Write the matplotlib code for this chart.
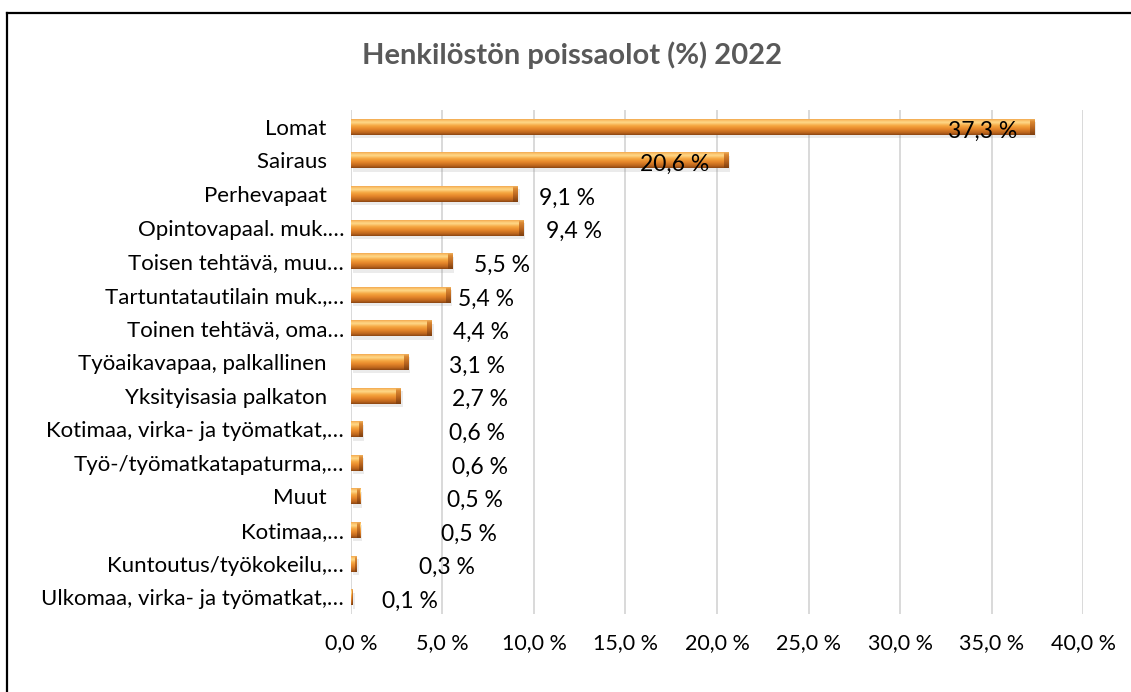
import numpy as np
import matplotlib
matplotlib.use('Agg')
import matplotlib.pyplot as plt
from matplotlib.colors import LinearSegmentedColormap
from matplotlib.lines import Line2D

categories = [
    'Lomat', 'Sairaus', 'Perhevapaat', 'Opintovapaal. muk.\u2026',
    'Toisen tehtävä, muu\u2026', 'Tartuntatautilain muk.,\u2026',
    'Toinen tehtävä, oma\u2026', 'Työaikavapaa, palkallinen',
    'Yksityisasia palkaton', 'Kotimaa, virka- ja työmatkat,\u2026',
    'Työ-/työmatkatapaturma,\u2026', 'Muut', 'Kotimaa,\u2026',
    'Kuntoutus/työkokeilu,\u2026', 'Ulkomaa, virka- ja työmatkat,\u2026',
]
values = [37.3, 20.6, 9.1, 9.4, 5.5, 5.4, 4.4, 3.1, 2.7, 0.6, 0.6, 0.5, 0.5, 0.3, 0.1]
value_labels = ['37,3 %', '20,6 %', '9,1 %', '9,4 %', '5,5 %', '5,4 %', '4,4 %', '3,1 %',
                '2,7 %', '0,6 %', '0,6 %', '0,5 %', '0,5 %', '0,3 %', '0,1 %']
xticks = [0, 5, 10, 15, 20, 25, 30, 35, 40]
xtick_labels = ['0,0 %', '5,0 %', '10,0 %', '15,0 %', '20,0 %', '25,0 %', '30,0 %', '35,0 %', '40,0 %']

# Excel's 3D view scatters the data labels; centres
label_x = [34.5, 17.7, 11.8, 12.2, 8.25, 7.4, 7.1, 6.9, 7.05, 6.9, 7.05, 6.8, 6.45, 5.25, 3.2]

FONT = ['Lato', 'DejaVu Sans']
plt.rcParams['font.family'] = FONT

body = LinearSegmentedColormap.from_list('body', [
    (0.00, '#8a4512'), (0.12, '#b9631c'), (0.35, '#e5862a'),
    (0.55, '#f5a640'), (0.75, '#ffd98a'), (0.90, '#f9b85e'), (1.00, '#e39240')])
cap = LinearSegmentedColormap.from_list('cap', [
    (0.00, '#7e3f10'), (0.40, '#b8641e'), (0.80, '#dc8a34'), (1.00, '#f6c070')])

fig = plt.figure(figsize=(11.31, 6.92), dpi=100)
ax = fig.add_axes([0.3103, 0.1127, 0.6473, 0.7283])

y = np.arange(len(categories))
h = 0.48
grad = np.linspace(0, 1, 64).reshape(-1, 1)

# soft shadow under the bars
ax.barh(y + 0.1, values, height=h, left=0.12, color='#7f7f7f', alpha=0.15, zorder=2)
bars = ax.barh(y, values, height=h, color='#ee9a3a', zorder=3)

for i, (b, v) in enumerate(zip(bars, values)):
    im = ax.imshow(grad, cmap=body, aspect='auto', origin='lower',
                   extent=(0, v, i + h / 2, i - h / 2), zorder=4, interpolation='bilinear')
    im.set_clip_path(b)
    cw = min(0.22, v * 0.3)
    im2 = ax.imshow(grad, cmap=cap, aspect='auto', origin='lower',
                    extent=(v - cw, v, i + h / 2, i - h / 2), zorder=5, interpolation='bilinear')
    im2.set_clip_path(b)
    ax.text(label_x[i], i + 0.12, value_labels[i], ha='center', va='center',
            fontsize=16.5, color='black', zorder=6)

# labels Excel did not cut short sit a bit further from the axis
ylabels = [c if c.endswith('\u2026') else c + '   ' for c in categories]

ax.set_xlim(0, 40)
ax.set_ylim(len(categories) - 0.5, -0.5)
ax.set_xticks(xticks)
ax.set_xticklabels(xtick_labels, fontsize=15.5)
ax.set_yticks(y)
ax.set_yticklabels(ylabels, fontsize=16)
ax.tick_params(axis='both', length=0)
ax.tick_params(axis='x', pad=14)
ax.tick_params(axis='y', pad=5)
for s in ax.spines.values():
    s.set_visible(False)
ax.set_axisbelow(True)
ax.xaxis.grid(True, color='#d9d9d9', lw=1.4)

fig.text(0.506, 0.92, 'Henkilöstön poissaolot (%) 2022', ha='center', va='center',
         fontsize=21, fontweight='bold', color='#595959')

# chart frame: only top and left edges are visible in the crop
fig.add_artist(Line2D([7 / 1131, 1130 / 1131], [1 - 12.5 / 692, 1 - 12.5 / 692],
                      transform=fig.transFigure, color='black', lw=1.6))
fig.add_artist(Line2D([7 / 1131, 7 / 1131], [0, 1 - 12.5 / 692],
                      transform=fig.transFigure, color='black', lw=1.6))

fig.savefig('out.png', dpi=100)
